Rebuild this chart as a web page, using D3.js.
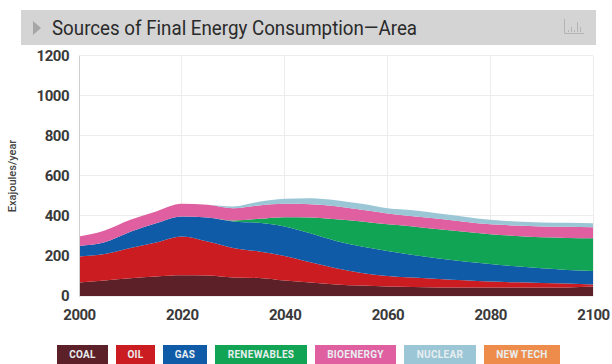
<!DOCTYPE html>
<html><head><meta charset="utf-8">
<script src="https://cdn.jsdelivr.net/npm/d3@7/dist/d3.min.js"></script>
<style>html,body{margin:0;background:#fff}svg{display:block}</style></head>
<body><svg id="c" width="612" height="364"></svg>
<script>
const years = [2000,2005,2010,2015,2020,2025,2030,2035,2040,2045,2050,2055,2060,2065,2070,2075,2080,2085,2090,2095,2100];
const coal = [67,77,88,97,103,102,92,90,77,67,58,52,47,45,43,43,43,43,43,43,47];
const oil = [130,133,152,170,194,170,148,132,123,101,80,63,53,47,42,35,29,25,22,19,11];
const gas = [53,58,80,96,100,120,132,143,147,145,137,132,125,113,102,94,88,80,73,68,67];
const renewables = [0,0,0,0,0,0,5,20,46,79,108,125,133,142,146,148,148,152,155,160,163];
const bioenergy = [47,59,60,59,63,63,61,67,67,66,65,58,54,51,52,51,50,52,54,55,55];
const nuclear = [0,0,0,0,0,0,9,18,25,30,30,30,26,30,27,25,22,20,20,20,20];
const newTech = [0,0,0,0,0,0,0,0,0,0,0,0,0,0,0,0,0,0,0,0,0];
const seriesNames = ["COAL","OIL","GAS","RENEWABLES","BIOENERGY","NUCLEAR","NEW TECH"];
const seriesValues = [coal,oil,gas,renewables,bioenergy,nuclear,newTech];
const seriesColors = ["#5c2029","#cb1c22","#0f5ba8","#10a454","#df5fa0","#9ac6d6","#ee8d4b"];
const yTicks = [0,200,400,600,800,1000,1200];
const xTicks = [2000,2020,2040,2060,2080,2100];
const legendWidths = [51,39,44,92,81,72,76];

const svg = d3.select("#c");
const x = d3.scaleLinear().domain([2000,2100]).range([79,593]);
const y = d3.scaleLinear().domain([0,1200]).range([296,55.5]);

// header band
svg.append("rect").attr("x",21).attr("y",10).attr("width",575).attr("height",35).attr("fill","#d4d4d4");
svg.append("path").attr("d","M33 21l8 7l-8 7z").attr("fill","#a6a6a6");
svg.append("text").attr("x",52).attr("y",35).attr("font-family","Roboto").attr("font-size",20).attr("fill","#2a2a2a")
  .attr("textLength",365).attr("lengthAdjust","spacingAndGlyphs")
  .text("Sources of Final Energy Consumption\u2014Area");
const icon = svg.append("g").attr("stroke","#b4b4b4").attr("fill","none").attr("stroke-width",1);
icon.append("path").attr("d","M564.5 19V33.5H584");
[[568,30],[571,27],[574,30],[577,22],[580,27]].forEach(([a,b])=>icon.append("path").attr("d",`M${a}.5 32V${b}`));

// grid
const grid = svg.append("g").attr("stroke","#ececec").attr("stroke-width",1).attr("shape-rendering","crispEdges");
yTicks.forEach(t=>grid.append("line").attr("x1",79).attr("x2",593).attr("y1",y(t)).attr("y2",y(t)));
xTicks.forEach(t=>grid.append("line").attr("x1",x(t)).attr("x2",x(t)).attr("y1",55.5).attr("y2",296));

// stacked areas
const rows = years.map((yr,i)=>{
  const r = {year:yr};
  seriesNames.forEach((n,k)=>r[n]=seriesValues[k][i]);
  return r;
});
const stacked = d3.stack().keys(seriesNames)(rows);
const area = d3.area().x(d=>x(d.data.year)).y0(d=>y(d[0])).y1(d=>y(d[1])).curve(d3.curveMonotoneX);
svg.append("g").selectAll("path").data(stacked).join("path")
  .attr("d",area).attr("fill",(d,i)=>seriesColors[i]);

// axes
const styleTicks = sel => sel.selectAll("text")
  .attr("font-family","Roboto").attr("font-weight",700).attr("font-size",15)
  .attr("letter-spacing",-0.5).attr("fill","#3a3a3a");
const yAxis = svg.append("g").attr("transform","translate(79,0)")
  .call(d3.axisLeft(y).tickValues(yTicks).tickSize(0).tickPadding(10).tickFormat(d3.format("d")));
yAxis.select(".domain").attr("stroke","#cfcfcf");
styleTicks(yAxis);
const xAxis = svg.append("g").attr("transform","translate(0,296)")
  .call(d3.axisBottom(x).tickValues(xTicks).tickSize(0).tickPadding(13).tickFormat(d3.format("d")));
xAxis.select(".domain").remove();
styleTicks(xAxis);
svg.append("text").attr("transform","translate(16,176) rotate(-90)").attr("text-anchor","middle")
  .attr("font-family","Roboto").attr("font-weight",500).attr("font-size",11).attr("fill","#444").text("Exajoules/year");

// legend chips
let lx = 57;
const legend = svg.append("g");
seriesNames.forEach((n,i)=>{
  legend.append("rect").attr("x",lx).attr("y",345).attr("width",legendWidths[i]).attr("height",19).attr("fill",seriesColors[i]);
  legend.append("text").attr("x",lx+legendWidths[i]/2).attr("y",358).attr("text-anchor","middle")
    .attr("font-family","Roboto").attr("font-weight",700).attr("font-size",10).attr("letter-spacing",0.3).attr("fill","#e8eef0").text(n);
  lx += legendWidths[i]+8;
});
</script></body></html>
